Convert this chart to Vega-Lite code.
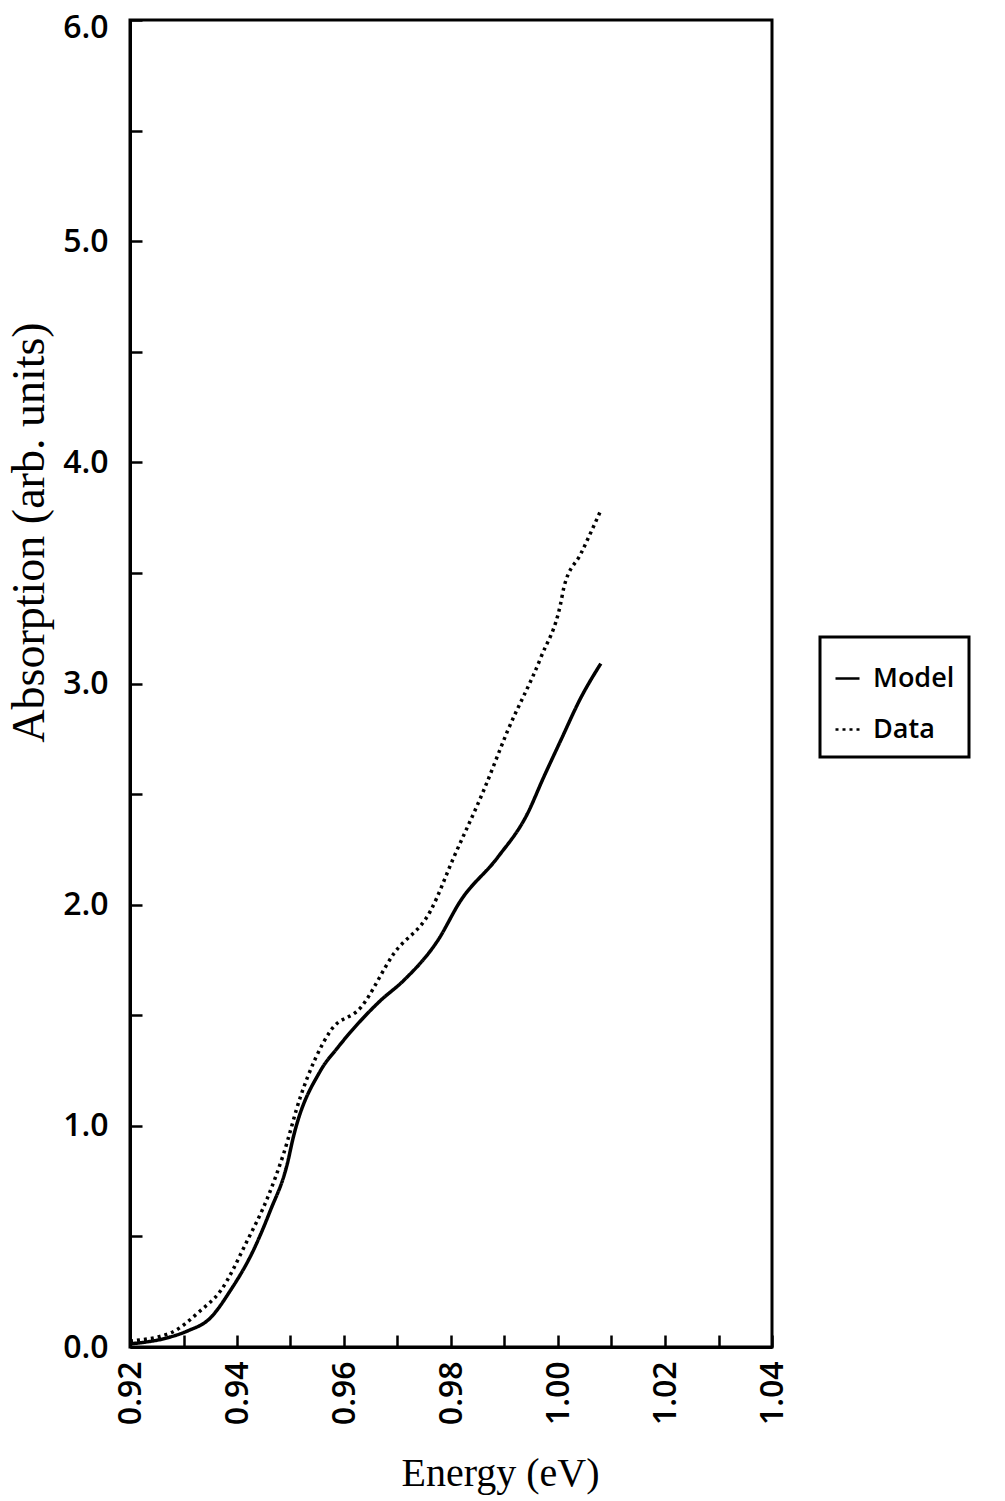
{
  "$schema": "https://vega.github.io/schema/vega-lite/v6.json",
  "width": 642,
  "height": 1327,
  "autosize": "none",
  "padding": {"left": 130, "top": 20, "right": 233, "bottom": 154},
  "background": "white",
  "config": {
    "view": {"stroke": "black", "strokeWidth": 3},
    "axis": {
      "grid": false,
      "domainColor": "black",
      "domainWidth": 3,
      "tickColor": "black",
      "tickWidth": 2.5,
      "labelColor": "black",
      "titleColor": "black",
      "labelFont": "Open Sans",
      "labelFontWeight": 600,
      "labelFontSize": 32,
      "titleFont": "Liberation Serif",
      "titleFontWeight": "normal"
    },
    "legend": {
      "strokeColor": "black",
      "strokeWidth": 3,
      "fillColor": "white",
      "padding": 14,
      "labelFont": "Open Sans",
      "labelFontWeight": 600,
      "labelFontSize": 27,
      "labelColor": "black",
      "labelLimit": 600
    }
  },
  "data": {
    "values": [
      {"E": 0.9200, "A": 0.014, "series": "Model"},
      {"E": 0.9275, "A": 0.045, "series": "Model"},
      {"E": 0.9307, "A": 0.072, "series": "Model"},
      {"E": 0.9350, "A": 0.131, "series": "Model"},
      {"E": 0.9387, "A": 0.253, "series": "Model"},
      {"E": 0.9430, "A": 0.434, "series": "Model"},
      {"E": 0.9462, "A": 0.615, "series": "Model"},
      {"E": 0.9494, "A": 0.828, "series": "Model"},
      {"E": 0.9505, "A": 0.946, "series": "Model"},
      {"E": 0.9556, "A": 1.249, "series": "Model"},
      {"E": 0.9588, "A": 1.353, "series": "Model"},
      {"E": 0.9631, "A": 1.475, "series": "Model"},
      {"E": 0.9668, "A": 1.566, "series": "Model"},
      {"E": 0.9711, "A": 1.656, "series": "Model"},
      {"E": 0.9775, "A": 1.837, "series": "Model"},
      {"E": 0.9818, "A": 2.018, "series": "Model"},
      {"E": 0.9887, "A": 2.213, "series": "Model"},
      {"E": 0.9943, "A": 2.412, "series": "Model"},
      {"E": 0.9973, "A": 2.575, "series": "Model"},
      {"E": 1.0005, "A": 2.742, "series": "Model"},
      {"E": 1.0043, "A": 2.937, "series": "Model"},
      {"E": 1.0080, "A": 3.090, "series": "Model"},
      {"E": 0.9200, "A": 0.027, "series": "Data"},
      {"E": 0.9275, "A": 0.063, "series": "Data"},
      {"E": 0.9331, "A": 0.163, "series": "Data"},
      {"E": 0.9369, "A": 0.253, "series": "Data"},
      {"E": 0.9419, "A": 0.480, "series": "Data"},
      {"E": 0.9457, "A": 0.674, "series": "Data"},
      {"E": 0.9487, "A": 0.873, "series": "Data"},
      {"E": 0.9518, "A": 1.127, "series": "Data"},
      {"E": 0.9575, "A": 1.430, "series": "Data"},
      {"E": 0.9631, "A": 1.534, "series": "Data"},
      {"E": 0.9693, "A": 1.778, "series": "Data"},
      {"E": 0.9762, "A": 1.973, "series": "Data"},
      {"E": 0.9805, "A": 2.213, "series": "Data"},
      {"E": 0.9861, "A": 2.516, "series": "Data"},
      {"E": 0.9906, "A": 2.787, "series": "Data"},
      {"E": 0.9968, "A": 3.118, "series": "Data"},
      {"E": 1.0005, "A": 3.362, "series": "Data"},
      {"E": 1.0011, "A": 3.434, "series": "Data"},
      {"E": 1.0043, "A": 3.588, "series": "Data"},
      {"E": 1.0080, "A": 3.783, "series": "Data"}
    ]
  },
  "mark": {"type": "line", "color": "black", "strokeWidth": 3.5, "clip": true, "interpolate": "monotone"},
  "encoding": {
    "x": {
      "field": "E",
      "type": "quantitative",
      "scale": {"domain": [0.92, 1.04], "nice": false, "zero": false},
      "axis": {
        "title": "Energy (eV)",
        "titleFontSize": 40,
        "titleX": 370,
        "titleY": 126,
        "titleBaseline": "middle",
        "values": [0.92, 0.93, 0.94, 0.95, 0.96, 0.97, 0.98, 0.99, 1.0, 1.01, 1.02, 1.03, 1.04],
        "labelExpr": "round(datum.value * 100) % 2 == 0 ? format(datum.value, '.2f') : ''",
        "labelAngle": 270,
        "labelFlush": false,
        "tickSize": -12,
        "labelPadding": 26
      }
    },
    "y": {
      "field": "A",
      "type": "quantitative",
      "scale": {"domain": [0, 6], "nice": false},
      "axis": {
        "title": "Absorption (arb. units)",
        "titleFontSize": 46,
        "titleAngle": 270,
        "titleX": -101,
        "titleY": 512,
        "titleAlign": "center",
        "titleBaseline": "middle",
        "values": [0, 0.5, 1, 1.5, 2, 2.5, 3, 3.5, 4, 4.5, 5, 5.5, 6],
        "labelExpr": "datum.value % 1 == 0 ? format(datum.value, '.1f') : ''",
        "labelFlush": false,
        "labelOffset": {"condition": {"test": "datum.value == 6", "value": 7}, "value": 0},
        "tickSize": -12,
        "labelPadding": 34
      }
    },
    "detail": {"field": "series"},
    "strokeDash": {
      "field": "series",
      "type": "nominal",
      "scale": {"domain": ["Model", "Data"], "range": [[1, 0], [3, 4]]},
      "legend": {
        "title": " ",
        "titleFontSize": 6,
        "titlePadding": 8,
        "orient": "none",
        "legendX": 690,
        "legendY": 617,
        "symbolType": "stroke",
        "symbolSize": 576,
        "symbolStrokeWidth": 2.5,
        "symbolStrokeColor": "black",
        "rowPadding": 23,
        "labelOffset": 12,
        "labelExpr": "datum.label + '\u00a0\u00a0\u00a0\u00a0\u00a0\u00a0\u00a0\u00a0\u00a0\u00a0\u00a0\u00a0\u00a0\u00a0\u00a0\u00a0\u00a0\u00a0'"
      }
    }
  }
}
